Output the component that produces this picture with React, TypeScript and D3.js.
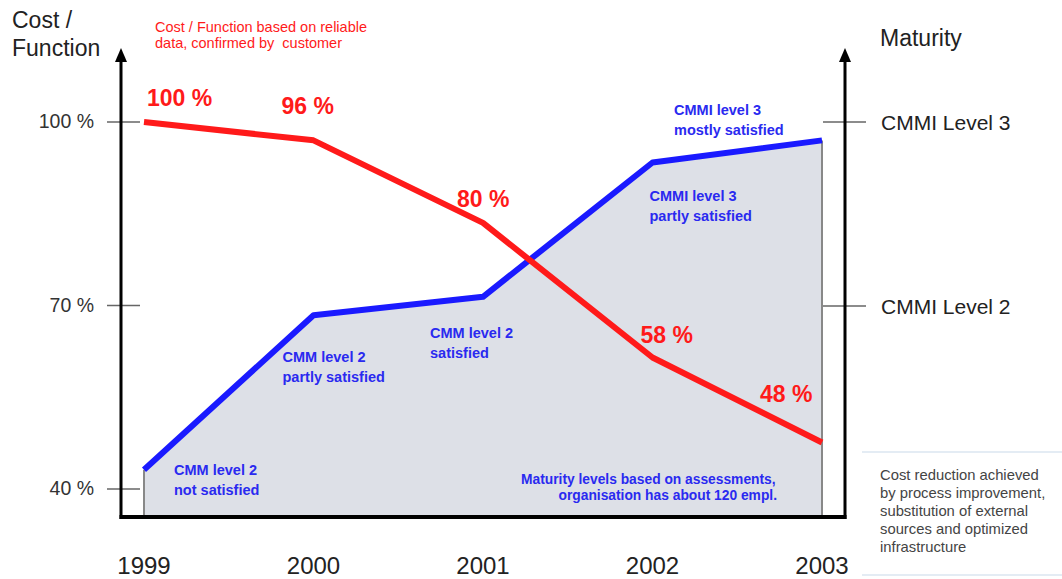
import React from "react";
import * as d3 from "d3";

const years = ["1999", "2000", "2001", "2002", "2003"];
const costValues = [100, 97, 83.5, 61.5, 47.6];
const costLabels = ["100 %", "96 %", "80 %", "58 %", "48 %"];
const maturityValues = [1.11, 1.95, 2.05, 2.78, 2.9];
const costTicks = [100, 70, 40];
const costTickLabels = ["100 %", "70 %", "40 %"];
const maturityTicks = [3, 2];
const maturityTickLabels = ["CMMI Level 3", "CMMI Level 2"];
const maturityNotes = [
  ["CMM level 2", "not satisfied"],
  ["CMM level 2", "partly satisfied"],
  ["CMM level 2", "satisfied"],
  ["CMMI level 3", "partly satisfied"],
  ["CMMI level 3", "mostly satisfied"],
];
const noteLines = ["Cost / Function based on reliable", "data, confirmed by  customer"];
const assessLines = ["Maturity levels based on assessments,", "organisation has about 120 empl."];
const boxLines = [
  "Cost reduction achieved",
  "by process improvement,",
  "substitution of external",
  "sources and optimized",
  "infrastructure",
];

const FONT = "'Liberation Sans', Arial, Helvetica, sans-serif";
const RED = "#ff1a1a";
const BLUE = "#1a1aff";
const BLUE_TXT = "#2a2af0";

export default function App() {
  const x = d3.scalePoint<string>().domain(years).range([144, 822]);
  const yCost = d3.scaleLinear().domain([40, 100]).range([489, 122]);
  const yMat = d3.scaleLinear().domain([2, 3]).range([306, 122]);
  const baseY = 517;
  const leftX = 121;
  const rightX = 845;

  const redLine = d3
    .line<number>()
    .x((_, i) => x(years[i])!)
    .y((d) => yCost(d))(costValues)!;
  const blueLine = d3
    .line<number>()
    .x((_, i) => x(years[i])!)
    .y((d) => yMat(d))(maturityValues)!;
  const blueArea = d3
    .area<number>()
    .x((_, i) => x(years[i])!)
    .y0(baseY)
    .y1((d) => yMat(d))(maturityValues)!;

  // label offsets (layout)
  const costLabelPos = [
    [3, -16],
    [-32, -26],
    [-26, -16],
    [-12, -14],
    [-62, -41],
  ];
  const matNotePos = [
    [30, 5],
    [-31, 47],
    [-53, 41],
    [-3, 39],
    [-148, -25],
  ];

  return (
    <svg
      width={1062}
      height={579}
      style={{ position: "absolute", left: 0, top: 0, background: "#fff" }}
      fontFamily={FONT}
    >
      {/* area */}
      <path d={blueArea} fill="#dde0e7" />
      <line x1={x("1999")} x2={x("1999")} y1={yMat(maturityValues[0])} y2={baseY} stroke="#888" strokeWidth={2} />
      <line x1={x("2003")} x2={x("2003")} y1={yMat(maturityValues[4])} y2={baseY} stroke="#888" strokeWidth={2} />

      {/* ticks */}
      {costTicks.map((t, i) => (
        <g key={t}>
          <line x1={107} x2={140} y1={yCost(t)} y2={yCost(t)} stroke="#666" strokeWidth={1.5} />
          <text x={94} y={yCost(t) + 6} fontSize={19.5} fill="#333" textAnchor="end">
            {costTickLabels[i]}
          </text>
        </g>
      ))}
      {maturityTicks.map((t, i) => (
        <g key={t}>
          <line x1={823} x2={866} y1={yMat(t)} y2={yMat(t)} stroke="#666" strokeWidth={1.5} />
          <text x={881} y={yMat(t) + 8} fontSize={21} fill="#222">
            {maturityTickLabels[i]}
          </text>
        </g>
      ))}

      {/* axes */}
      <line x1={leftX} x2={leftX} y1={baseY + 2} y2={58} stroke="#000" strokeWidth={3} />
      <path d={`M${leftX - 6},62 L${leftX},48 L${leftX + 6},62 Z`} fill="#000" />
      <line x1={rightX} x2={rightX} y1={baseY + 2} y2={58} stroke="#000" strokeWidth={3} />
      <path d={`M${rightX - 6},62 L${rightX},48 L${rightX + 6},62 Z`} fill="#000" />
      <line x1={leftX - 1.5} x2={rightX + 1.5} y1={baseY} y2={baseY} stroke="#000" strokeWidth={4} />

      {/* lines */}
      <path d={blueLine} fill="none" stroke={BLUE} strokeWidth={6} strokeLinejoin="round" />
      <path d={redLine} fill="none" stroke={RED} strokeWidth={6} strokeLinejoin="round" />

      {/* cost labels */}
      {costLabels.map((l, i) => (
        <text
          key={l}
          x={x(years[i])! + costLabelPos[i][0]}
          y={yCost(costValues[i]) + costLabelPos[i][1]}
          fontSize={23}
          fontWeight="bold"
          fill={RED}
        >
          {l}
        </text>
      ))}

      {/* maturity notes */}
      {maturityNotes.map((n, i) => (
        <text
          key={i}
          x={x(years[i])! + matNotePos[i][0]}
          y={yMat(maturityValues[i]) + matNotePos[i][1]}
          fontSize={14.5}
          fontWeight="bold"
          fill={BLUE_TXT}
        >
          <tspan>{n[0]}</tspan>
          <tspan x={x(years[i])! + matNotePos[i][0]} dy={20}>
            {n[1]}
          </tspan>
        </text>
      ))}

      {/* assessment note */}
      <text fontSize={13.8} fontWeight="bold" fill={BLUE_TXT}>
        <tspan x={521} y={484}>{assessLines[0]}</tspan>
        <tspan x={777} y={500} textAnchor="end">{assessLines[1]}</tspan>
      </text>

      {/* titles */}
      <text fontSize={23} fill="#222">
        <tspan x={12} y={28}>Cost /</tspan>
        <tspan x={12} y={56}>Function</tspan>
      </text>
      <text x={880} y={46} fontSize={23} fill="#222">Maturity</text>

      <text fontSize={14.5} fill={RED} style={{ whiteSpace: "pre" }}>
        <tspan x={155} y={32}>{noteLines[0]}</tspan>
        <tspan x={155} y={48}>{noteLines[1]}</tspan>
      </text>

      {/* years */}
      {years.map((yv) => (
        <text key={yv} x={x(yv)} y={574} fontSize={24} fill="#222" textAnchor="middle">
          {yv}
        </text>
      ))}

      {/* bottom-right box */}
      <line x1={862} x2={1062} y1={452} y2={452} stroke="#dbe6f0" strokeWidth={1.5} />
      <line x1={862} x2={1062} y1={575} y2={575} stroke="#dbe6f0" strokeWidth={1.5} />
      <text fontSize={14.8} fill="#444">
        {boxLines.map((l, i) => (
          <tspan key={i} x={880} y={480 + i * 18}>
            {l}
          </tspan>
        ))}
      </text>
    </svg>
  );
}
